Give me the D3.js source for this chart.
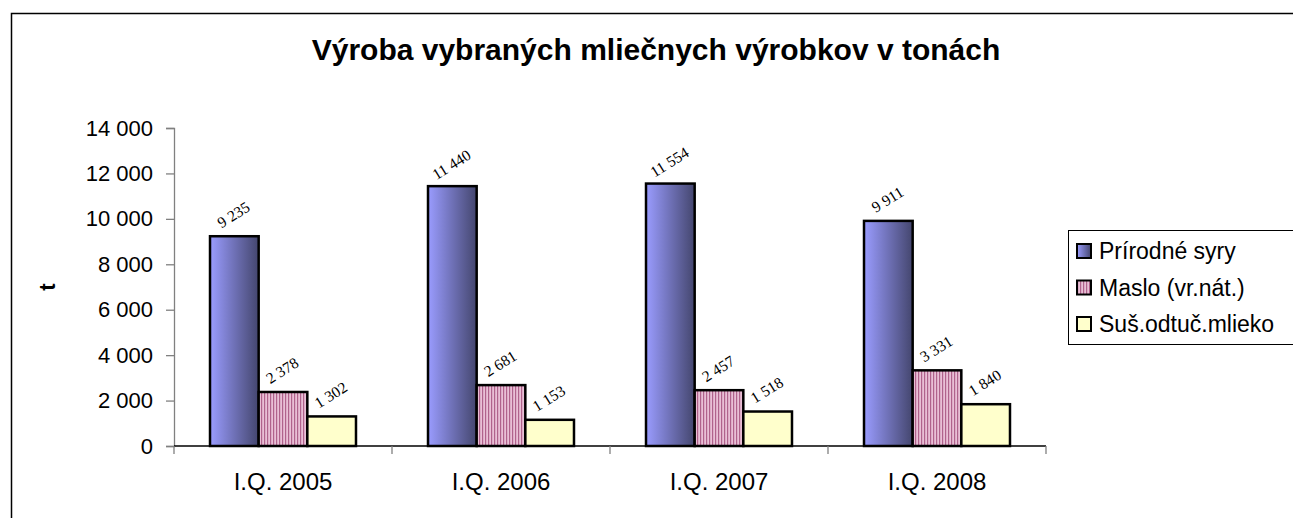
<!DOCTYPE html>
<html>
<head>
<meta charset="utf-8">
<script src="https://cdn.jsdelivr.net/npm/d3@7"></script>
<style>
  body { margin: 0; background: #fff; }
  text { font-family: Arial, "Liberation Sans", sans-serif; }
</style>
</head>
<body>
<div id="chart"></div>
<script>
// data
var categories = ["I.Q. 2005", "I.Q. 2006", "I.Q. 2007", "I.Q. 2008"];
var seriesNames = ["Prírodné syry", "Maslo (vr.nát.)", "Suš.odtuč.mlieko"];
var syry = [9235, 11440, 11554, 9911];
var maslo = [2378, 2681, 2457, 3331];
var mlieko = [1302, 1153, 1518, 1840];
var yTicks = [0, 2000, 4000, 6000, 8000, 10000, 12000, 14000];

var W = 1293, H = 518;
var plot = {left: 174, right: 1046, top: 128, bottom: 446};

var svg = d3.select("#chart").append("svg")
    .attr("width", W)
    .attr("height", H);

var defs = svg.append("defs");

// blue gradient, light on the left to dark on the right
var grad = defs.append("linearGradient")
    .attr("id", "blueGrad")
    .attr("x1", "0%").attr("x2", "100%").attr("y1", "0%").attr("y2", "0%");
grad.append("stop").attr("offset", "0%").attr("stop-color", "#9a9cff");
grad.append("stop").attr("offset", "100%").attr("stop-color", "#44466e");

// pink vertical stripes
var pat = defs.append("pattern")
    .attr("id", "pinkStripes")
    .attr("patternUnits", "userSpaceOnUse")
    .attr("width", 3).attr("height", 10);
pat.append("rect").attr("width", 3).attr("height", 10).attr("fill", "#e9bfd6");
pat.append("rect").attr("x", 0).attr("width", 1.2).attr("height", 10).attr("fill", "#b0628c");

var fills = ["url(#blueGrad)", "url(#pinkStripes)", "#ffffcc"];

// outer frame (runs off the right and bottom of the picture)
svg.append("rect")
    .attr("x", 11.5).attr("y", 13.5)
    .attr("width", 1400).attr("height", 600)
    .attr("fill", "none")
    .attr("stroke", "#000")
    .attr("stroke-width", 1.5);

// title
svg.append("text")
    .attr("x", 656)
    .attr("y", 60)
    .attr("text-anchor", "middle")
    .style("font-size", "30px")
    .style("font-weight", "bold")
    .text("Výroba vybraných mliečnych výrobkov v tonách");

// scales
var x0 = d3.scaleBand()
    .domain(categories)
    .range([plot.left, plot.right]);

var x1 = d3.scaleBand()
    .domain(seriesNames)
    .range([0, x0.bandwidth()])
    .paddingOuter(0.74)
    .paddingInner(0);

var y = d3.scaleLinear()
    .domain([0, 14000])
    .range([plot.bottom, plot.top]);

var fmt = function(v) { return d3.format(",")(v).replace(/,/g, " "); };

// y axis
var yAxis = svg.append("g")
    .attr("transform", "translate(" + plot.left + ",0)")
    .call(d3.axisLeft(y).tickValues(yTicks).tickSize(8).tickPadding(13).tickFormat(fmt));
yAxis.select(".domain").attr("stroke", "#808080").attr("stroke-width", 1.3);
yAxis.selectAll(".tick line").attr("stroke", "#808080").attr("stroke-width", 1.3);
yAxis.selectAll(".tick text")
    .attr("fill", "#000")
    .style("font-size", "22px")
    .style("font-family", "Arial, 'Liberation Sans', sans-serif");

// y axis title
svg.append("text")
    .attr("transform", "translate(55,287) rotate(-90)")
    .attr("text-anchor", "middle")
    .style("font-size", "22px")
    .style("font-weight", "bold")
    .text("t");

// bars
var table = categories.map(function(c, i) {
  return {cat: c, vals: [syry[i], maslo[i], mlieko[i]]};
});

var groups = svg.append("g").selectAll("g")
    .data(table)
    .enter().append("g")
    .attr("transform", function(d) { return "translate(" + x0(d.cat) + ",0)"; });

groups.selectAll("rect")
    .data(function(d) { return d.vals.map(function(v, j) { return {s: seriesNames[j], v: v, j: j}; }); })
    .enter().append("rect")
    .attr("x", function(d) { return x1(d.s); })
    .attr("y", function(d) { return y(d.v); })
    .attr("width", x1.bandwidth())
    .attr("height", function(d) { return y(0) - y(d.v); })
    .attr("fill", function(d) { return fills[d.j]; })
    .attr("stroke", "#000")
    .attr("stroke-width", 2.5);

// value labels, tilted
groups.selectAll("text.val")
    .data(function(d) { return d.vals.map(function(v, j) { return {s: seriesNames[j], v: v, j: j}; }); })
    .enter().append("text")
    .attr("class", "val")
    .attr("text-anchor", "middle")
    .attr("transform", function(d) {
      return "translate(" + (x1(d.s) + x1.bandwidth() / 2 + 2) + "," + (y(d.v) - 17) + ") rotate(-32)";
    })
    .style("font-family", "'Liberation Serif', 'Times New Roman', serif")
    .style("font-size", "15.5px")
    .text(function(d) { return fmt(d.v); });

// x axis
var xAxis = svg.append("g")
    .attr("transform", "translate(0," + plot.bottom + ")");
xAxis.append("line")
    .attr("x1", plot.left).attr("x2", plot.right)
    .attr("stroke", "#000").attr("stroke-width", 1.3);
xAxis.selectAll("line.tk")
    .data(categories.concat(["end"]))
    .enter().append("line")
    .attr("class", "tk")
    .attr("x1", function(d, i) { return i < categories.length ? x0(d) : plot.right; })
    .attr("x2", function(d, i) { return i < categories.length ? x0(d) : plot.right; })
    .attr("y1", 0).attr("y2", 8)
    .attr("stroke", "#808080").attr("stroke-width", 1.3);
xAxis.selectAll("text")
    .data(categories)
    .enter().append("text")
    .attr("x", function(d) { return x0(d) + x0.bandwidth() / 2; })
    .attr("y", 44)
    .attr("text-anchor", "middle")
    .style("font-size", "24px")
    .text(function(d) { return d; });

// legend
var legend = svg.append("g");
legend.append("rect")
    .attr("x", 1068.5).attr("y", 230.5)
    .attr("width", 300).attr("height", 114)
    .attr("fill", "#fff")
    .attr("stroke", "#000")
    .attr("stroke-width", 1);

var items = legend.selectAll("g.item")
    .data(seriesNames)
    .enter().append("g")
    .attr("class", "item")
    .attr("transform", function(d, i) { return "translate(1077," + (251 + i * 36.5) + ")"; });

items.append("rect")
    .attr("x", 0).attr("y", -7)
    .attr("width", 14).attr("height", 14)
    .attr("fill", function(d, i) { return fills[i]; })
    .attr("stroke", "#000")
    .attr("stroke-width", 2);

items.append("text")
    .attr("x", 22)
    .attr("y", 8)
    .style("font-size", "23px")
    .text(function(d) { return d; });
</script>
</body>
</html>
